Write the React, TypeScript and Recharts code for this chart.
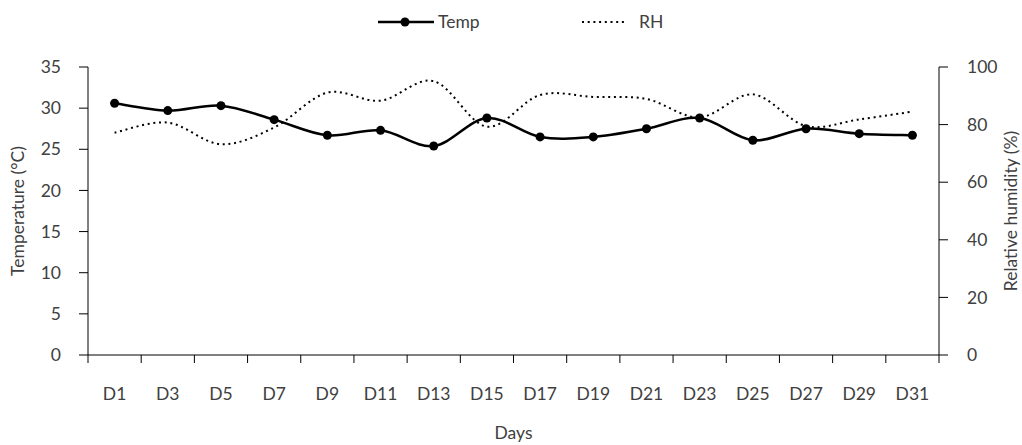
import { LineChart, Line, XAxis, YAxis } from 'recharts';

const days = ['D1', 'D3', 'D5', 'D7', 'D9', 'D11', 'D13', 'D15', 'D17', 'D19', 'D21', 'D23', 'D25', 'D27', 'D29', 'D31'];
const temp = [30.6, 29.7, 30.3, 28.6, 26.7, 27.3, 25.4, 28.8, 26.5, 26.5, 27.5, 28.8, 26.1, 27.5, 26.9, 26.7];
const rh = [77.2, 80.7, 73.2, 79.0, 91.1, 88.3, 95.1, 79.3, 90.3, 89.6, 88.9, 82.5, 90.5, 79.5, 81.8, 84.5];
const tempTicks = [0, 5, 10, 15, 20, 25, 30, 35];
const rhTicks = [0, 20, 40, 60, 80, 100];

const data = days.map((day, i) => ({ day, temp: temp[i], rh: rh[i] }));

const WIDTH = 1022;
const HEIGHT = 445;
const PLOT_LEFT = 88;
const PLOT_RIGHT = 939;
const PLOT_TOP = 67;
const PLOT_BOTTOM = 355;
const BAND = (PLOT_RIGHT - PLOT_LEFT) / days.length;
const INK = '#000';
const TEXT = '#404040';
const FONT = 'Lato, "Open Sans", sans-serif';
const FS = 17.5;
const FW = 400;

// Catmull-Rom style smoothing, close to office-chart "smoothed line"
const smoothCurve = (context: any) => {
  let pts: [number, number][] = [];
  return {
    areaStart() {},
    areaEnd() {},
    lineStart() {
      pts = [];
    },
    point(x: number, y: number) {
      pts.push([+x, +y]);
    },
    lineEnd() {
      if (!pts.length) return;
      context.moveTo(pts[0][0], pts[0][1]);
      const k = 1 / 6;
      for (let i = 0; i < pts.length - 1; i++) {
        const p0 = pts[i - 1] || pts[i];
        const p1 = pts[i];
        const p2 = pts[i + 1];
        const p3 = pts[i + 2] || p2;
        context.bezierCurveTo(
          p1[0] + (p2[0] - p0[0]) * k,
          p1[1] + (p2[1] - p0[1]) * k,
          p2[0] - (p3[0] - p1[0]) * k,
          p2[1] - (p3[1] - p1[1]) * k,
          p2[0],
          p2[1],
        );
      }
    },
  };
};

const DayTick = (props: any) => {
  const { x, payload, index } = props;
  const left = x - BAND / 2;
  return (
    <g>
      <line x1={left} x2={left} y1={PLOT_BOTTOM} y2={PLOT_BOTTOM + 8} stroke={INK} />
      {index === days.length - 1 && (
        <line x1={x + BAND / 2} x2={x + BAND / 2} y1={PLOT_BOTTOM} y2={PLOT_BOTTOM + 8} stroke={INK} />
      )}
      <text
        x={x}
        y={PLOT_BOTTOM + 38}
        textAnchor="middle"
        dominantBaseline="central"
        fill={TEXT}
        fontSize={FS}
        fontWeight={FW}
      >
        {payload.value}
      </text>
    </g>
  );
};

const SideTitle = ({ x, text }: { x: number; text: string }) => {
  const cy = (PLOT_TOP + PLOT_BOTTOM) / 2;
  return (
    <text
      x={x}
      y={cy}
      transform={`rotate(-90, ${x}, ${cy})`}
      textAnchor="middle"
      dominantBaseline="central"
      fill={TEXT}
      fontSize={FS}
      fontWeight={FW}
    >
      {text}
    </text>
  );
};

function Legend() {
  return (
    <div
      style={{
        position: 'absolute',
        top: 12,
        left: 0,
        width: WIDTH,
        height: 24,
        fontSize: FS,
        fontWeight: FW,
        color: TEXT,
      }}
    >
      <svg width={58} height={20} style={{ position: 'absolute', left: 377, top: 0 }}>
        <line x1={1} x2={57} y1={10} y2={10} stroke={INK} strokeWidth={2.5} />
        <circle cx={28} cy={10} r={4.5} fill={INK} />
      </svg>
      <span style={{ position: 'absolute', left: 438, top: 0, lineHeight: '20px' }}>Temp</span>
      <svg width={44} height={20} style={{ position: 'absolute', left: 581, top: 0 }}>
        <line x1={1} x2={43} y1={10} y2={10} stroke={INK} strokeWidth={2} strokeDasharray="2 3.7" />
      </svg>
      <span style={{ position: 'absolute', left: 639, top: 0, lineHeight: '20px' }}>RH</span>
    </div>
  );
}

export default function App() {
  return (
    <div
      style={{
        position: 'absolute',
        left: 0,
        top: 0,
        width: WIDTH,
        height: HEIGHT,
        fontFamily: FONT,
        background: '#fff',
      }}
    >
      <Legend />
      <LineChart
        width={WIDTH}
        height={HEIGHT}
        data={data}
        margin={{ top: PLOT_TOP, right: WIDTH - PLOT_RIGHT - 60, left: PLOT_LEFT - 60, bottom: 0 }}
        style={{ fontFamily: FONT }}
      >
        <XAxis
          dataKey="day"
          scale="band"
          interval={0}
          height={HEIGHT - PLOT_BOTTOM}
          axisLine={{ stroke: INK }}
          tickLine={false}
          tick={<DayTick />}
          label={{ value: 'Days', position: 'insideBottom', offset: 6, fill: TEXT, fontSize: FS, fontWeight: FW }}
        />
        <YAxis
          yAxisId="temp"
          orientation="left"
          width={60}
          domain={[0, 35]}
          ticks={tempTicks}
          interval={0}
          axisLine={{ stroke: INK }}
          tickLine={{ stroke: INK }}
          tickSize={9}
          tickMargin={18}
          tick={{ fill: TEXT, fontSize: FS, fontWeight: FW }}
          label={() => <SideTitle x={17} text="Temperature (°C)" />}
        />
        <YAxis
          yAxisId="rh"
          orientation="right"
          width={60}
          domain={[0, 100]}
          ticks={rhTicks}
          interval={0}
          axisLine={{ stroke: INK }}
          tickLine={{ stroke: INK }}
          tickSize={9}
          tickMargin={19}
          tick={{ fill: TEXT, fontSize: FS, fontWeight: FW }}
          label={() => <SideTitle x={1010} text="Relative humidity (%)" />}
        />
        <Line
          yAxisId="rh"
          dataKey="rh"
          type={smoothCurve as any}
          stroke={INK}
          strokeWidth={2}
          strokeDasharray="2 3.7"
          dot={false}
          activeDot={false}
          isAnimationActive={false}
        />
        <Line
          yAxisId="temp"
          dataKey="temp"
          type={smoothCurve as any}
          stroke={INK}
          strokeWidth={2.5}
          dot={{ r: 4.5, fill: INK, stroke: INK, strokeWidth: 0 }}
          activeDot={false}
          isAnimationActive={false}
        />
      </LineChart>
    </div>
  );
}
